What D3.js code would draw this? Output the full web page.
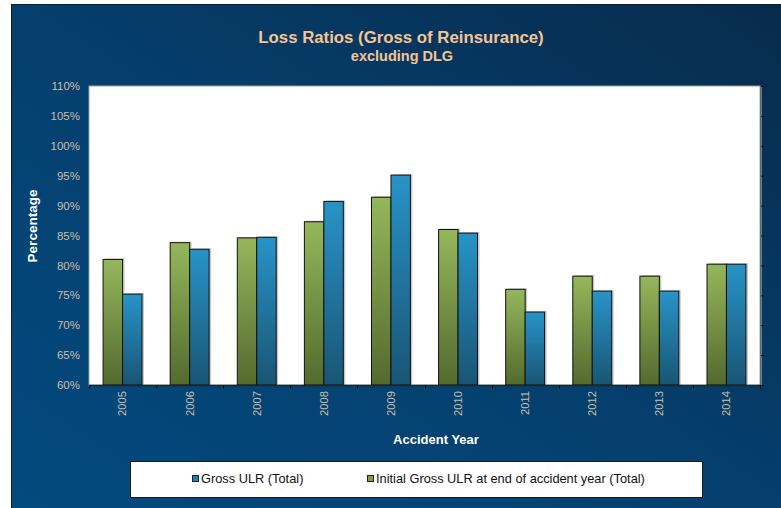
<!DOCTYPE html>
<html>
<head>
<meta charset="utf-8">
<script src="https://cdn.jsdelivr.net/npm/d3@7"></script>
<style>
  html, body { margin: 0; padding: 0; background: #ffffff; }
  svg { display: block; }
  text { font-family: "Liberation Sans", Arial, sans-serif; }
</style>
</head>
<body>
<svg id="chart" width="781" height="508"></svg>
<script>
// Accident years and loss ratios (%)
const years = ["2005", "2006", "2007", "2008", "2009", "2010", "2011", "2012", "2013", "2014"];
const initialGrossULR = [81.0, 83.8, 84.6, 87.3, 91.4, 86.0, 76.0, 78.2, 78.2, 80.2];
const grossULR = [75.2, 82.7, 84.7, 90.7, 95.1, 85.4, 72.2, 75.7, 75.7, 80.2];
const yTicks = [60, 65, 70, 75, 80, 85, 90, 95, 100, 105, 110];

const seriesNames = ["Initial Gross ULR at end of accident year (Total)", "Gross ULR (Total)"];
const legendOrder = ["Gross ULR (Total)", "Initial Gross ULR at end of accident year (Total)"];
const seriesValues = { [seriesNames[0]]: initialGrossULR, [seriesNames[1]]: grossULR };
const seriesFill = { [seriesNames[0]]: "url(#gradGreen)", [seriesNames[1]]: "url(#gradBlue)" };
const legendFill = { [seriesNames[0]]: "#7f9a48", [seriesNames[1]]: "#2180b0" };

const svg = d3.select("#chart");
const W = 781, H = 508;
const plot = { left: 89, top: 86, right: 760, bottom: 385 };

const defs = svg.append("defs");
const bg = defs.append("linearGradient").attr("id", "bgGrad")
  .attr("x1", "0").attr("y1", "1").attr("x2", "1").attr("y2", "0");
bg.append("stop").attr("offset", "0").attr("stop-color", "#034a7f");
bg.append("stop").attr("offset", "0.5").attr("stop-color", "#053f6d");
bg.append("stop").attr("offset", "1").attr("stop-color", "#082b4c");

const gG = defs.append("linearGradient").attr("id", "gradGreen")
  .attr("x1", "0").attr("y1", "0").attr("x2", "0").attr("y2", "1");
gG.append("stop").attr("offset", "0").attr("stop-color", "#95b75b");
gG.append("stop").attr("offset", "1").attr("stop-color", "#536a2e");
const gB = defs.append("linearGradient").attr("id", "gradBlue")
  .attr("x1", "0").attr("y1", "0").attr("x2", "0").attr("y2", "1");
gB.append("stop").attr("offset", "0").attr("stop-color", "#2893c7");
gB.append("stop").attr("offset", "1").attr("stop-color", "#195574");

// Background panel
svg.append("rect").attr("x", 11).attr("y", 4).attr("width", W - 11).attr("height", H - 4)
  .attr("fill", "url(#bgGrad)");
svg.append("line").attr("x1", 11.5).attr("x2", 11.5).attr("y1", 4).attr("y2", H)
  .attr("stroke", "#0a1e33").attr("stroke-width", 1);
svg.append("line").attr("x1", 11).attr("x2", W).attr("y1", 4.5).attr("y2", 4.5)
  .attr("stroke", "#0a1e33").attr("stroke-width", 1);

// Titles
svg.append("text").attr("x", 401).attr("y", 43).attr("text-anchor", "middle")
  .attr("font-size", 16.8).attr("font-weight", "bold").attr("fill", "#f7c592")
  .text("Loss Ratios (Gross of Reinsurance)");
svg.append("text").attr("x", 402).attr("y", 61).attr("text-anchor", "middle")
  .attr("font-size", 14.5).attr("font-weight", "bold").attr("fill", "#f7c592")
  .text("excluding DLG");

// Scales
const y = d3.scaleLinear().domain([60, 110]).range([plot.bottom, plot.top]);
const x0 = d3.scaleBand().domain(years).range([plot.left, plot.right]).padding(0);
const bw = x0.bandwidth();
const x1 = d3.scaleBand().domain(seriesNames).range([bw * 0.21, bw * 0.79]).padding(0);

// Plot area
svg.append("rect").attr("x", plot.left).attr("y", plot.top)
  .attr("width", plot.right - plot.left).attr("height", plot.bottom - plot.top)
  .attr("fill", "#ffffff").attr("stroke", "#8fa89a").attr("stroke-width", 1);

// Left axis labels
const yAxis = d3.axisLeft(y).tickValues(yTicks).tickSize(0).tickPadding(9)
  .tickFormat(d => d + "%");
const ya = svg.append("g").attr("transform", `translate(${plot.left},0)`).call(yAxis);
ya.select(".domain").remove();
ya.selectAll("text").attr("font-size", 11.5).attr("fill", "#cbbfa9")
  .attr("font-family", "'Liberation Sans', Arial, sans-serif");

// Right axis (ticks only)
const yAxisR = d3.axisRight(y).tickValues(yTicks).tickSize(3).tickFormat("");
const yr = svg.append("g").attr("transform", `translate(${plot.right + 1},0)`).call(yAxisR);
yr.select(".domain").attr("stroke", "#6f7f74");
yr.selectAll(".tick line").attr("stroke", "#111");

// Bars
const groups = svg.append("g").selectAll("g").data(years).join("g")
  .attr("transform", d => `translate(${x0(d)},0)`);
seriesNames.forEach(name => {
  const vals = seriesValues[name];
  groups.append("rect")
    .attr("x", (d, i) => x1(name) + 2)
    .attr("y", (d, i) => y(vals[i]) - 1)
    .attr("width", x1.bandwidth())
    .attr("height", (d, i) => y(60) - y(vals[i]) + 1)
    .attr("fill", "#9a9a9a").attr("opacity", 0.55);
});
seriesNames.forEach(name => {
  const vals = seriesValues[name];
  groups.append("rect")
    .attr("x", (d, i) => x1(name))
    .attr("y", (d, i) => y(vals[i]))
    .attr("width", x1.bandwidth())
    .attr("height", (d, i) => y(60) - y(vals[i]))
    .attr("fill", seriesFill[name])
    .attr("stroke", "#111").attr("stroke-width", 1);
});

// Bottom axis
const xAxis = d3.axisBottom(x0).tickSize(0).tickPadding(0);
const xa = svg.append("g").attr("transform", `translate(0,${plot.bottom})`).call(xAxis);
xa.select(".domain").remove();
svg.append("line").attr("x1", plot.left).attr("x2", plot.right + 1)
  .attr("y1", plot.bottom + 0.5).attr("y2", plot.bottom + 0.5)
  .attr("stroke", "#1a2630").attr("stroke-width", 1.5);
svg.append("g").selectAll("line").data(years.concat(["end"])).join("line")
  .attr("x1", (d, i) => Math.round(plot.left + i * bw) + 0.5)
  .attr("x2", (d, i) => Math.round(plot.left + i * bw) + 0.5)
  .attr("y1", plot.bottom).attr("y2", plot.bottom + 4)
  .attr("stroke", "#111");
xa.selectAll("text")
  .attr("transform", "rotate(-90)")
  .attr("text-anchor", "end")
  .attr("x", -6).attr("y", 0).attr("dy", "0.35em")
  .attr("font-size", 11.2).attr("fill", "#cbbfa9")
  .attr("font-family", "'Liberation Sans', Arial, sans-serif");

// Axis titles
svg.append("text").attr("transform", "translate(37,226) rotate(-90)")
  .attr("text-anchor", "middle").attr("font-size", 13.5).attr("font-weight", "bold")
  .attr("fill", "#ffffff").text("Percentage");
svg.append("text").attr("x", 436).attr("y", 444).attr("text-anchor", "middle")
  .attr("font-size", 13).attr("font-weight", "bold").attr("fill", "#ffffff")
  .text("Accident Year");

// Legend
svg.append("rect").attr("x", 130.5).attr("y", 461.5).attr("width", 572).attr("height", 36)
  .attr("fill", "#ffffff").attr("stroke", "#1a1a1a").attr("stroke-width", 1);
const legendX = { [legendOrder[0]]: 192, [legendOrder[1]]: 367 };
const lg = svg.append("g").selectAll("g").data(legendOrder).join("g")
  .attr("transform", d => `translate(${legendX[d]},479)`);
lg.append("rect").attr("x", 0.5).attr("y", -3.5).attr("width", 6).attr("height", 6)
  .attr("fill", d => legendFill[d]).attr("stroke", "#222").attr("stroke-width", 1);
lg.append("text").attr("x", 9).attr("y", 0).attr("dy", "0.35em")
  .attr("font-size", 12.8).attr("fill", "#111").text(d => d);
</script>
</body>
</html>
